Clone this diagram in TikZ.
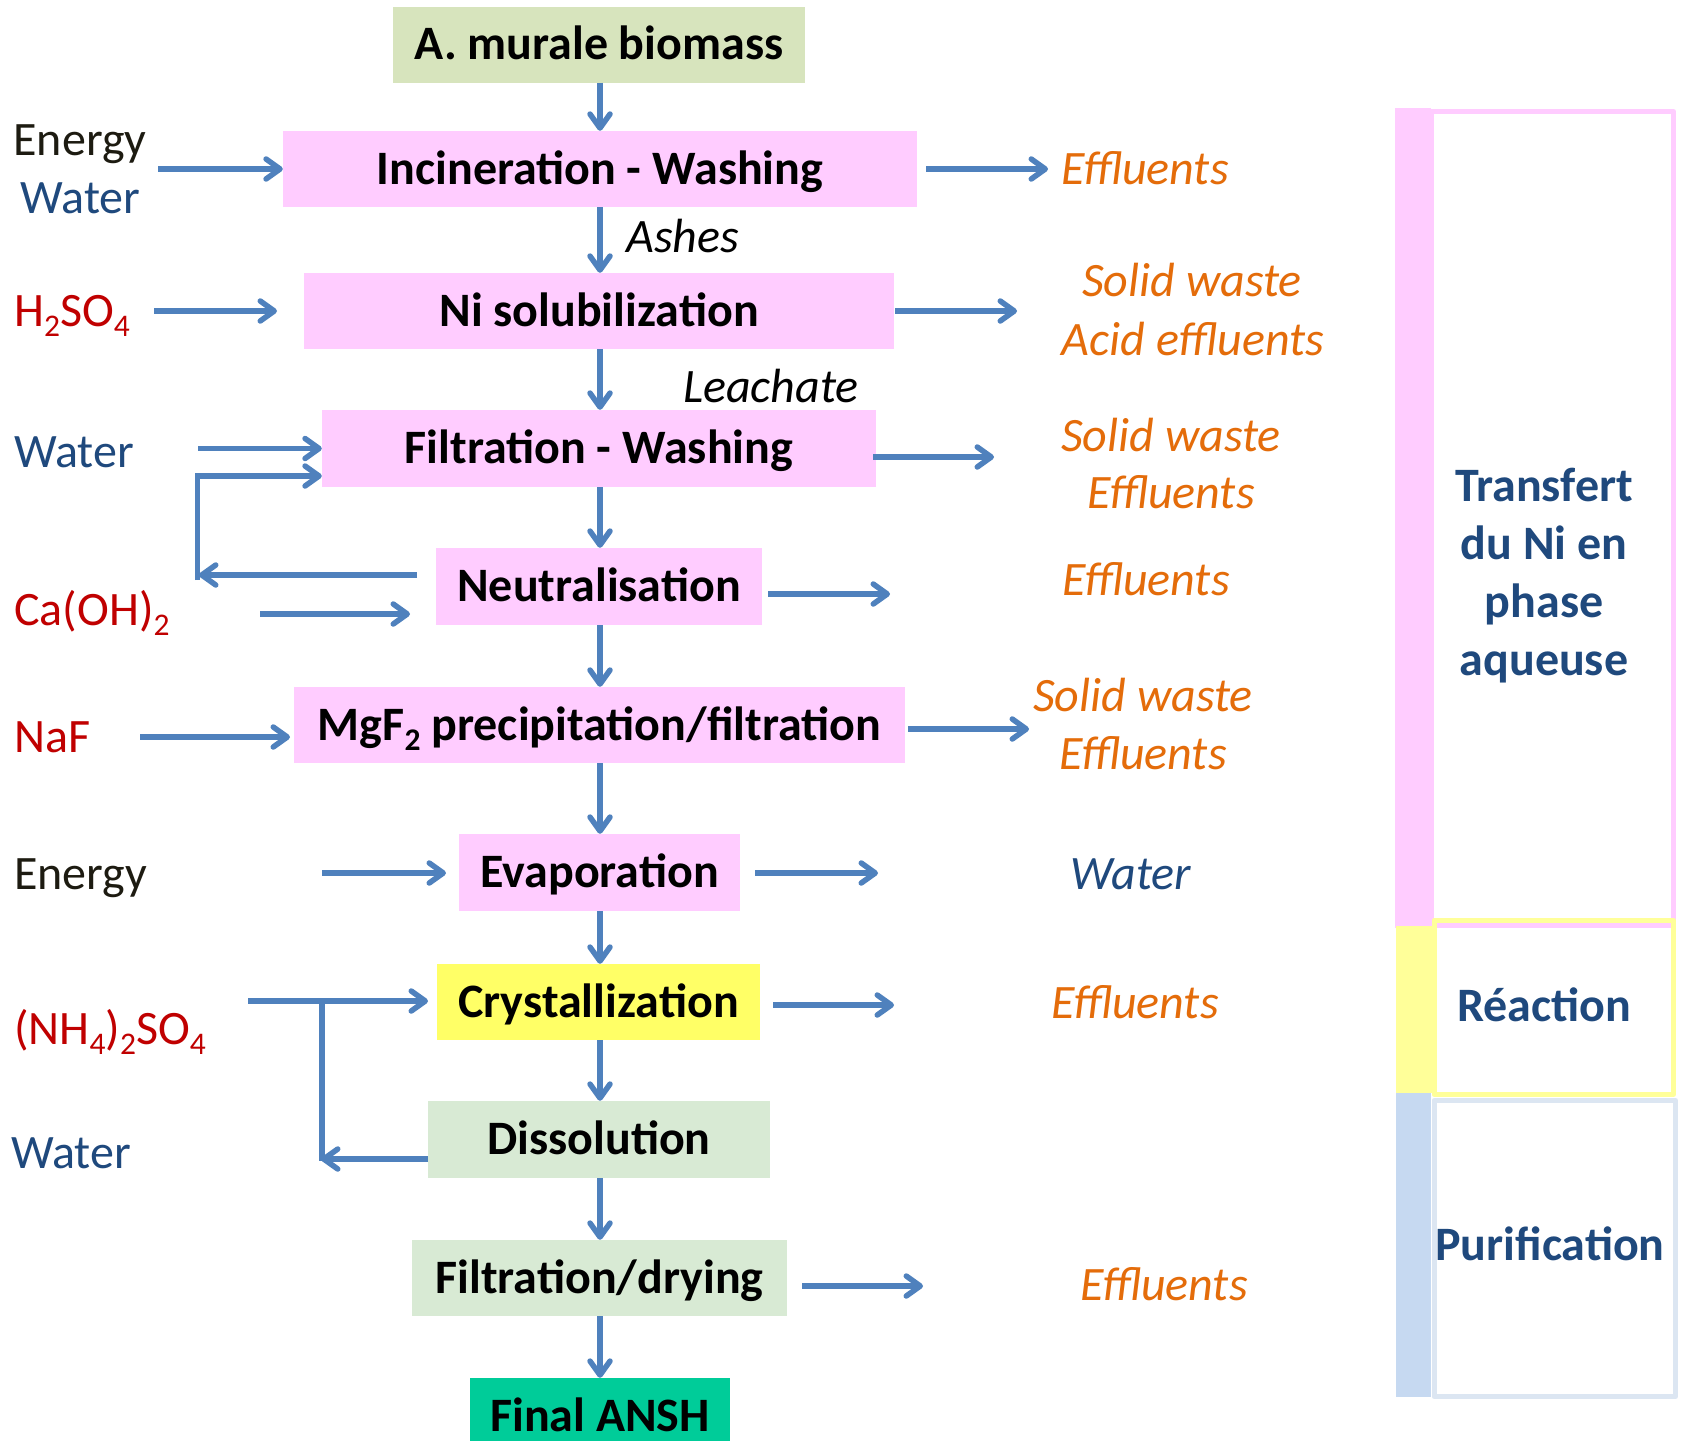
\documentclass[tikz,border=0pt]{standalone}
\usepackage{fontspec}
\setmainfont{Carlito}
\usetikzlibrary{arrows.meta}
\definecolor{pinkb}{HTML}{FFCCFF}
\definecolor{greenA}{HTML}{D7E4BD}
\definecolor{greenB}{HTML}{D8EAD4}
\definecolor{yellowc}{HTML}{FFFF66}
\definecolor{tealc}{HTML}{00CC99}
\definecolor{arrblue}{HTML}{4F81BD}
\definecolor{orangec}{HTML}{E46C0A}
\definecolor{darkblue}{HTML}{1F497D}
\definecolor{redc}{HTML}{C00000}
\definecolor{nearblack}{HTML}{1D1B11}
\definecolor{yellowbar}{HTML}{FFFF99}
\definecolor{bluebar}{HTML}{C6D9F1}
\definecolor{blueline}{HTML}{DCE6F2}
\newcommand\fs{\fontsize{48}{58}\selectfont}
\newcommand\sbs[1]{\raisebox{-0.22em}{\fontsize{31.5}{31.5}\selectfont #1}}
\begin{document}
\begin{tikzpicture}[x=1pt,y=-1pt,
 every node/.style={inner sep=0pt},
 box/.style={minimum height=76pt, text height=30pt, text depth=0pt, font=\fs\bfseries, text=black},
 arr/.style={draw=arrblue, line width=5.5pt, -{Straight Barb[length=14pt,width=20pt,line width=5.5pt,round]}},
 lnk/.style={draw=arrblue, line width=5.5pt},
 outl/.style={font=\fs\itshape, text=orangec, anchor=base},
 lbl/.style={font=\fs, anchor=base west},
 side/.style={font=\fs\bfseries, text=darkblue},
]
\useasboundingbox (0,0) rectangle (1685,1440);
\clip (0,0) rectangle (1685,1440);
\fill[white] (0,0) rectangle (1685,1440);

% process boxes
\node[box, fill=greenA, minimum width=412pt] (bio) at (599,44.5) {A. murale biomass};
\node[box, fill=pinkb, minimum width=634pt] (inc) at (600,169) {Incineration - Washing};
\node[box, fill=pinkb, minimum width=590pt] (sol) at (599,311) {Ni solubilization};
\node[box, fill=pinkb, minimum width=554pt, minimum height=77pt] (fil) at (599,448.5) {Filtration - Washing};
\node[box, fill=pinkb, minimum width=326pt, minimum height=77pt] (neu) at (599,586.5) {Neutralisation};
\node[box, fill=pinkb, minimum width=611pt] (mgf) at (599.5,725) {MgF\sbs{2} precipitation/filtration};
\node[box, fill=pinkb, minimum width=281pt, minimum height=77pt] (eva) at (599.5,872.5) {Evaporation};
\node[box, fill=yellowc, minimum width=323pt] (cry) at (598.5,1002) {Crystallization};
\node[box, fill=greenB, minimum width=342pt, minimum height=77pt] (dis) at (599,1139.5) {Dissolution};
\node[box, fill=greenB, minimum width=375pt] (fdr) at (599.5,1278) {Filtration/drying};
\node[box, fill=tealc, minimum width=260pt] (fin) at (600,1416) {Final ANSH};

% main chain
\foreach \a/\b in {bio/inc,inc/sol,sol/fil,fil/neu,neu/mgf,mgf/eva,eva/cry,cry/dis,dis/fdr,fdr/fin}
  \draw[arr] (\a.south -| 600,0) -- (\b.north -| 600,0);

\node[font=\fs\itshape, anchor=base west] (ash) at (626,252) {Ashes};
\node[font=\fs\itshape, anchor=base west] (lea) at (683,402) {Leachate};

% left inputs
\node[lbl, text=nearblack, anchor=base] (en1) at (80,155) {Energy};
\node[lbl, text=darkblue, anchor=base] (wa1) at (80.5,213) {Water};
\node[lbl, text=redc] (h2so4) at (14,326) {H\sbs{2}SO\sbs{4}};
\node[lbl, text=darkblue] (wa2) at (14,467) {Water};
\node[lbl, text=redc] (caoh) at (14,625) {Ca(OH)\sbs{2}};
\node[lbl, text=redc] (naf) at (14,752) {NaF};
\node[lbl, text=nearblack] (en2) at (14,889) {Energy};
\node[lbl, text=redc] (nh4) at (14,1044) {(NH\sbs{4})\sbs{2}SO\sbs{4}};
\node[lbl, text=darkblue] (wa3) at (11,1168) {Water};

\coordinate (i1) at (158,169);
\draw[arr] (i1) -- (inc.west);
\coordinate (i2a) at (154,311); \coordinate (i2b) at (277,311);
\draw[arr] (i2a) -- (i2b);
\coordinate (i3) at (198,448.5);
\draw[arr] (i3) -- (fil.west);
\coordinate (lpA) at (417,575); \coordinate (lpB) at (199,575);
\draw[arr] (lpA) -- (lpB);
\coordinate (lpC) at (197.5,580); \coordinate (lpD) at (197.5,476);
\draw[arr] (lpC) -- (lpD) -- (lpD -| fil.west);
\coordinate (i4a) at (260,614); \coordinate (i4b) at (410,614);
\draw[arr] (i4a) -- (i4b);
\coordinate (i5a) at (140,737); \coordinate (i5b) at (290,737);
\draw[arr] (i5a) -- (i5b);
\coordinate (i6a) at (322,873); \coordinate (i6b) at (446,873);
\draw[arr] (i6a) -- (i6b);
\coordinate (i7a) at (248,1001); \coordinate (i7b) at (428,1001);
\draw[arr] (i7a) -- (i7b);
\coordinate (dvA) at (322,1003); \coordinate (dvB) at (322,1161);
\draw[lnk] (dvA) -- (dvB);
\coordinate (dlA) at (428,1159); \coordinate (dlB) at (321,1159);
\draw[arr] (dlA) -- (dlB);

% right outputs
\foreach \n/\xa/\xb/\y in {o1/926/1048/169, o2/895/1017/311, o3/873/994/457, o4/768/890/594, o5/908/1029/729, o6/755/878/873, o7/773/894/1005, o8/802/923/1286}{
  \coordinate (\n a) at (\xa,\y); \coordinate (\n b) at (\xb,\y);
  \draw[arr] (\n a) -- (\n b);
}
\node[outl] (e1) at (1145,184) {Effluents};
\node[outl] (sw2) at (1192,296) {Solid waste};
\node[outl] (ae2) at (1193,355) {Acid effluents};
\node[outl] (sw3) at (1171,451) {Solid waste};
\node[outl] (e3) at (1171,508) {Effluents};
\node[outl] (e4) at (1146,595) {Effluents};
\node[outl] (sw5) at (1143,711) {Solid waste};
\node[outl] (e5) at (1143,769) {Effluents};
\node[outl, text=darkblue] (w6) at (1131,889) {Water};
\node[outl] (e7) at (1135,1018) {Effluents};
\node[outl] (e8) at (1164,1300) {Effluents};

% side bars
\fill[pinkb] (1395,108) rectangle (1431,928);
\draw[pinkb, line width=5pt, line join=round] (1431,111.5) rectangle (1673.5,925.5);
\fill[yellowbar] (1396,926) rectangle (1434,1093);
\draw[yellowbar, line width=5pt, line join=round] (1434,920.5) rectangle (1673.5,1094.5);
\fill[bluebar] (1396,1093) rectangle (1431,1397);
\draw[blueline, line width=5pt, line join=round] (1434,1100.5) rectangle (1675.5,1396.5);
\node[side, align=center] (tr) at (1544,576) {Transfert\\du Ni en\\phase\\aqueuse};
\node[side, anchor=base] (re) at (1544,1021) {Réaction};
\node[side, anchor=base] (pu) at (1550,1260) {Purification};
\end{tikzpicture}
\end{document}
